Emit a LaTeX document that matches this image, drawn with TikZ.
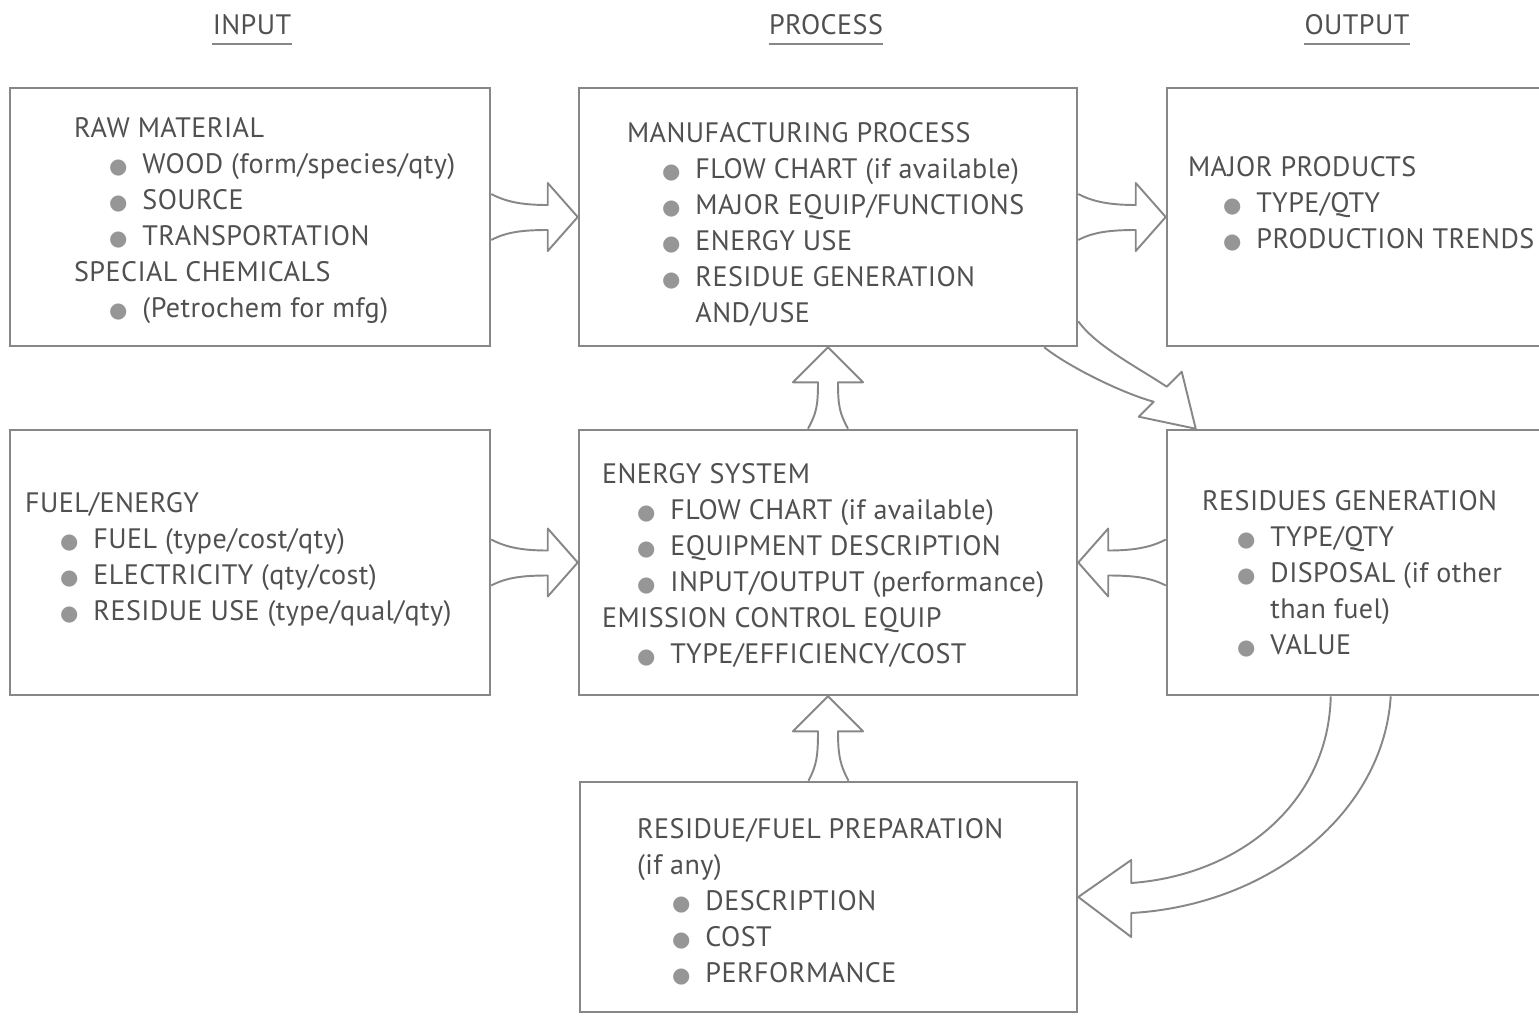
\documentclass[tikz,border=0pt]{standalone}
\usepackage{fontspec}
\setmainfont{PT Sans}[LetterSpace=1.5]
\newfontfamily\symfont{DejaVu Sans}
\usetikzlibrary{calc}

\definecolor{linegray}{RGB}{135,135,135}
\definecolor{textgray}{RGB}{80,80,80}
\definecolor{dotgray}{RGB}{150,150,150}

\newcommand{\bul}{\textcolor{dotgray}{{\symfont\fontsize{12}{12}\selectfont ●}}}
\newcommand{\itm}{\hspace*{0.7cm}\bul\hspace{0.3cm}}
\newcommand{\itmcont}{\hspace*{0.7cm}\phantom{\bul}\hspace{0.3cm}}

% block arrow between two boxes side by side (#3 = 1 right, -1 left)
\newcommand{\sidearrow}[3]{%
  \draw[arrowline] ($(#1)+(0,-23)$) .. controls +(#3*15,8) and +(#3*-25,0) .. ($(#2)+(#3*-30,-12)$)
    -- ++(0,-22) -- (#2) -- ++(#3*-30,34) -- ++(0,-21)
    .. controls +(#3*-25,0) and +(#3*15,-8) .. ($(#1)+(0,23)$);}
% block arrow pointing up
\newcommand{\uparrowbox}[2]{%
  \draw[arrowline] ($(#1)+(-20,0)$) .. controls +(8,-15) and +(0,25) .. ($(#2)+(-10,35)$)
    -- ++(-25,0) -- (#2) -- ++(35,35) -- ++(-25,0)
    .. controls +(0,25) and +(-8,-15) .. ($(#1)+(20,0)$);}

\tikzset{
  panel/.style={draw=linegray, line width=1.5pt, inner sep=0pt},
  arrowline/.style={draw=linegray, line width=1.1pt, line join=round},
  txt/.style={text=textgray, align=left, anchor=west, inner sep=0pt,
    font=\fontsize{16}{20.5}\selectfont},
  head/.style={text=textgray, inner sep=0pt, font=\fontsize{16}{16}\selectfont}
}

\begin{document}
\begin{tikzpicture}[x=0.02cm,y=-0.02cm]
  \clip (0,0) rectangle (1539,1015);

  % column titles
  \node[head] (inhead) at (252,25) {INPUT};
  \node[head] (prochead) at (826,25) {PROCESS};
  \node[head] (outhead) at (1357,25) {OUTPUT};
  \foreach \h in {inhead,prochead,outhead}
    \draw[linegray, line width=1pt] ($(\h.base west)+(0,9)$) -- ($(\h.base east)+(0,9)$);

  % boxes
  \node[panel, minimum width=9.6cm, minimum height=5.16cm] (raw) at (250,217) {};
  \node[panel, minimum width=9.96cm, minimum height=5.16cm] (mfg) at (828,217) {};
  \node[panel, minimum width=9cm, minimum height=5.16cm] (prod) at (1392,217) {};
  \node[panel, minimum width=9.6cm, minimum height=5.3cm] (fuel) at (250,562.5) {};
  \node[panel, minimum width=9.96cm, minimum height=5.3cm] (esys) at (828,562.5) {};
  \node[panel, minimum width=9cm, minimum height=5.3cm] (res) at (1392,562.5) {};
  \node[panel, minimum width=9.94cm, minimum height=4.6cm] (prep) at (828.5,897) {};

  % box texts
  \node[txt] (rawtxt) at ($(raw.west)+(65,4)$) {RAW MATERIAL\\
    \itm WOOD (form/species/qty)\\
    \itm SOURCE\\
    \itm TRANSPORTATION\\
    SPECIAL CHEMICALS\\
    \itm (Petrochem for mfg)};
  \node[txt] (mfgtxt) at ($(mfg.west)+(49,7)$) {MANUFACTURING PROCESS\\
    \itm FLOW CHART (if available)\\
    \itm MAJOR EQUIP/FUNCTIONS\\
    \itm ENERGY USE\\
    \itm RESIDUE GENERATION\\
    \itmcont AND/USE};
  \node[txt] (prodtxt) at ($(prod.west)+(22,-13)$) {MAJOR PRODUCTS\\
    \itm TYPE/QTY\\
    \itm PRODUCTION TRENDS};
  \node[txt] (fueltxt) at ($(fuel.west)+(16,-3)$) {FUEL/ENERGY\\
    \itm FUEL (type/cost/qty)\\
    \itm ELECTRICITY (qty/cost)\\
    \itm RESIDUE USE (type/qual/qty)};
  \node[txt] (esystxt) at ($(esys.west)+(24,3)$) {ENERGY SYSTEM\\
    \itm FLOW CHART (if available)\\
    \itm EQUIPMENT DESCRIPTION\\
    \itm INPUT/OUTPUT (performance)\\
    EMISSION CONTROL EQUIP\\
    \itm TYPE/EFFICIENCY/COST};
  \node[txt] (restxt) at ($(res.west)+(36,11)$) {RESIDUES GENERATION\\
    \itm TYPE/QTY\\
    \itm DISPOSAL (if other\\
    \itmcont than fuel)\\
    \itm VALUE};
  \node[txt] (preptxt) at ($(prep.west)+(58,5)$) {RESIDUE/FUEL PREPARATION\\
    (if any)\\
    \itm DESCRIPTION\\
    \itm COST\\
    \itm PERFORMANCE};

  % block arrows
  \sidearrow{raw.east}{mfg.west}{1}
  \sidearrow{mfg.east}{prod.west}{1}
  \sidearrow{fuel.east}{esys.west}{1}
  \sidearrow{res.west}{esys.east}{-1}
  \uparrowbox{esys.north}{mfg.south}
  \uparrowbox{prep.north}{esys.south}

  % manufacturing -> residues
  \coordinate (dtip) at ($(res.north west)+(30,0)$);
  \draw[arrowline] ($(mfg.south east)+(0,-26)$) .. controls +(18,25) and +(-30,-20) .. ($(dtip)+(-29,-42)$)
    -- ($(dtip)+(-14,-57)$) -- (dtip) -- ($(dtip)+(-57,-12)$) -- ($(dtip)+(-42,-27)$)
    .. controls +(-30,-8) and +(25,20) .. ($(mfg.south east)+(-34,0)$);

  % residues -> preparation
  \draw[arrowline] ($(res.south west)+(165,0)$) .. controls +(-2,105) and +(110,-8) .. ($(prep.east)+(53,-14)$)
    -- ++(0,-23) -- (prep.east) -- ++(53,40) -- ++(0,-24)
    .. controls +(140,-8) and +(-7,115) .. ($(res.south west)+(225,0)$);
\end{tikzpicture}
\end{document}
